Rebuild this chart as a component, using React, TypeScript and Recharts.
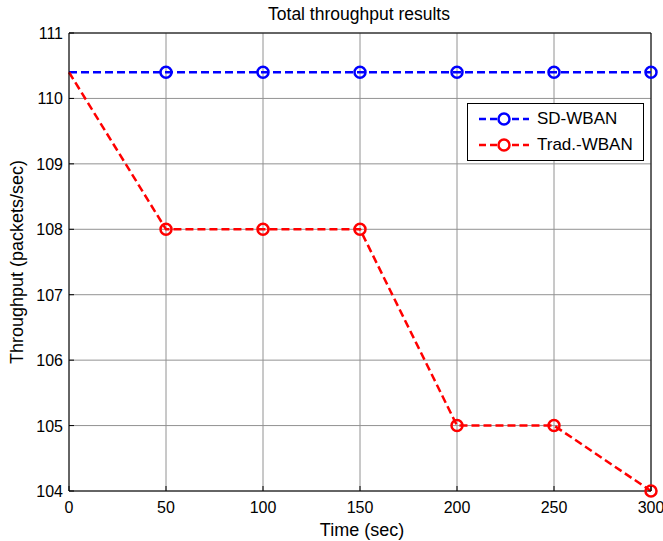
import { LineChart, Line, XAxis, YAxis, CartesianGrid, ReferenceLine } from "recharts";

const times = [0, 50, 100, 150, 200, 250, 300];
const sdWban = [110.4, 110.4, 110.4, 110.4, 110.4, 110.4, 110.4];
const tradWban = [110.4, 108, 108, 108, 105, 105, 104];
const xTicks = [0, 50, 100, 150, 200, 250, 300];
const yTicks = [104, 105, 106, 107, 108, 109, 110, 111];

const data = times.map((t, i) => ({ time: t, sd: sdWban[i], trad: tradWban[i] }));

const FONT = "'Liberation Sans', Arial, Helvetica, sans-serif";

const makeDot = (color: string) => (props: any) => {
    const { cx, cy, index } = props;
    // matlab run starts at t=0 without a marker
    if (index === 0) return <g key={`d-${index}`} />;
    return <circle key={`d-${index}`} cx={cx} cy={cy} r={5.5} fill="none" stroke={color} strokeWidth={2.5} />;
};

const XTick = (props: any) => {
    const { x, y, payload } = props;
    return (
        <g>
            <line x1={x} y1={y} x2={x} y2={y - 5} stroke="#000" />
            <text x={x} y={y + 22} textAnchor="middle" fontSize={16} fill="#000" fontFamily={FONT}>
                {payload.value}
            </text>
        </g>
    );
};

const YTick = (props: any) => {
    const { x, y, payload } = props;
    return (
        <g>
            <line x1={x} y1={y} x2={x + 5} y2={y} stroke="#000" />
            <text x={x - 6} y={y} dy={6} textAnchor="end" fontSize={16} fill="#000" fontFamily={FONT}>
                {payload.value}
            </text>
        </g>
    );
};

const legendItems = [
    { name: "SD-WBAN", color: "#0000ff" },
    { name: "Trad.-WBAN", color: "#ff0000" },
];

const LegendBox = () => (
    <div
        style={{
            position: "absolute",
            left: 467,
            top: 103,
            border: "1px solid #000",
            background: "#fff",
            width: 177,
            height: 58,
            boxSizing: "border-box",
            paddingTop: 2,
            fontFamily: FONT,
            fontSize: 17,
        }}
    >
        {legendItems.map((it) => (
            <div key={it.name} style={{ display: "flex", alignItems: "center", height: 26 }}>
                <svg width={62} height={20} style={{ marginLeft: 9 }}>
                    <line x1={2} y1={10} x2={52} y2={10} stroke={it.color} strokeWidth={2.5} strokeDasharray="7 4" />
                    <circle cx={27} cy={10} r={5.5} fill="#fff" stroke={it.color} strokeWidth={2.5} />
                </svg>
                <span style={{ marginLeft: -2 }}>{it.name}</span>
            </div>
        ))}
    </div>
);

const App = () => {
    return (
        <div style={{ position: "absolute", left: 0, top: 0, width: 663, height: 541, background: "#fff" }}>
            <LineChart width={663} height={541} data={data} margin={{ top: 33, right: 12, bottom: 0, left: 0 }}>
                <CartesianGrid stroke="#929292" strokeWidth={1} />
                <XAxis
                    dataKey="time"
                    type="number"
                    domain={[0, 300]}
                    ticks={xTicks}
                    height={50}
                    tickSize={0}
                    tickMargin={0}
                    tickLine={false}
                    tick={<XTick />}
                    stroke="#000"
                    interval={0}
                />
                <YAxis
                    type="number"
                    domain={[104, 111]}
                    ticks={yTicks}
                    width={69}
                    tickSize={0}
                    tickMargin={0}
                    tickLine={false}
                    tick={<YTick />}
                    stroke="#000"
                    interval={0}
                />
                <ReferenceLine y={111} stroke="#000" />
                <ReferenceLine x={300} stroke="#000" />
                <Line
                    dataKey="sd"
                    name="SD-WBAN"
                    stroke="#0000ff"
                    strokeWidth={2.5}
                    strokeDasharray="8 4"
                    dot={makeDot("#0000ff")}
                    isAnimationActive={false}
                />
                <Line
                    dataKey="trad"
                    name="Trad.-WBAN"
                    stroke="#ff0000"
                    strokeWidth={2.5}
                    strokeDasharray="8 4"
                    dot={makeDot("#ff0000")}
                    isAnimationActive={false}
                />
                <text x={359} y={20} textAnchor="middle" fontSize={17.5} fontFamily={FONT} fill="#000">
                    Total throughput results
                </text>
                <text x={362} y={536} textAnchor="middle" fontSize={18} fontFamily={FONT} fill="#000">
                    Time (sec)
                </text>
                <text
                    x={23}
                    y={262}
                    textAnchor="middle"
                    fontSize={18}
                    fontFamily={FONT}
                    fill="#000"
                    transform="rotate(-90 23 262)"
                >
                    Throughput (packets/sec)
                </text>
            </LineChart>
            <LegendBox />
        </div>
    );
};

export default App;
